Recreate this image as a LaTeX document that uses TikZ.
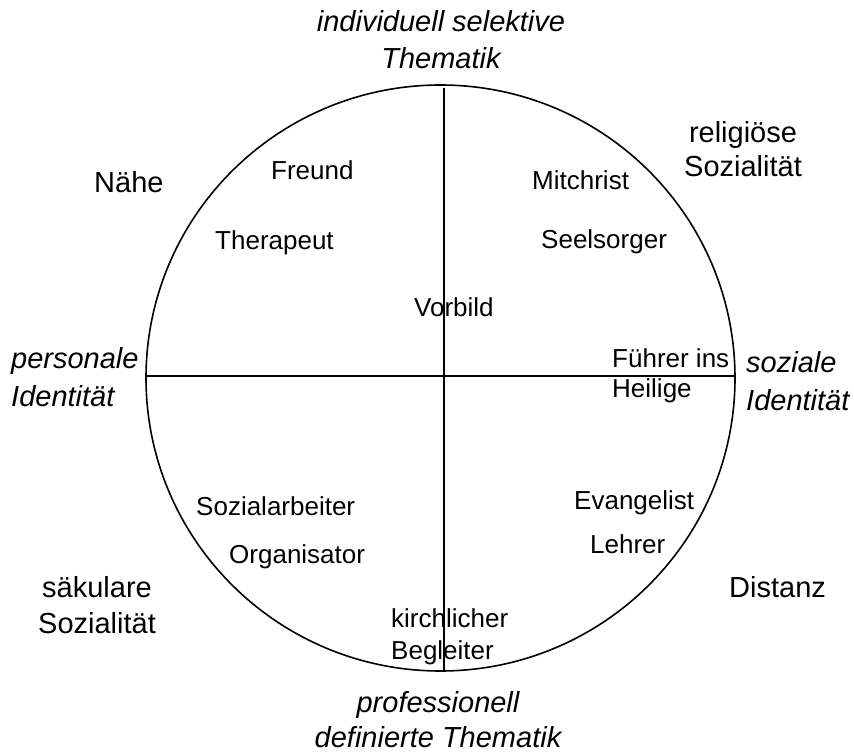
\documentclass[tikz,border=0pt]{standalone}
\usepackage{fontspec}
\setmainfont{Liberation Sans}
\newcommand\linesC[1]{\begin{tabular}[t]{@{}c@{}}#1\end{tabular}}
\newcommand\linesL[1]{\begin{tabular}[t]{@{}l@{}}#1\end{tabular}}
\begin{document}
\begin{tikzpicture}[x=1pt,y=-1pt,
  lbl/.style={inner sep=0pt, font=\fontsize{26}{#1}\selectfont},
  lbl/.default=30,
  big/.style={inner sep=0pt, font=\fontsize{29}{#1}\selectfont},
  big/.default=34,
  ital/.style={inner sep=0pt, font=\fontsize{29}{#1}\selectfont\itshape},
  ital/.default=37,
  axis/.style={line width=1.6pt, black}]
\fill[white] (0,0) rectangle (854,754);
\useasboundingbox (0,0) rectangle (854,754);
% circle and axes
\coordinate (c) at (440.5,378);
\draw[axis] (c) ellipse [x radius=294.5, y radius=293];
\coordinate (vt) at (444,88);
\coordinate (vb) at (444,671);
\coordinate (hl) at (146,376);
\coordinate (hr) at (735,376);
\draw[axis] (vt) -- (vb);
\draw[axis] (hl) -- (hr);
% axis labels
\node[ital, anchor=base] (top) at (441,32) {\linesC{individuell selektive\\Thematik}};
\node[ital=35, anchor=base] (bottom) at (438,712) {\linesC{professionell\\definierte Thematik}};
\node[ital=38, anchor=base west] (left) at (11,368) {\linesL{personale\\Identität}};
\node[ital=38, anchor=base west] (right) at (746,372) {\linesL{soziale\\Identität}};
% corner labels
\node[big, anchor=base west] (naehe) at (94,193) {Nähe};
\node[big, anchor=base] (relig) at (743,143) {\linesC{religiöse\\Sozialität}};
\node[big=36, anchor=base] (saek) at (97,597) {\linesC{säkulare\\Sozialität}};
\node[big, anchor=base west] (distanz) at (729,597) {Distanz};
% roles
\node[lbl, anchor=base west] (freund) at (271,180) {Freund};
\node[lbl, anchor=base west] (therapeut) at (215,249) {Therapeut};
\node[lbl, anchor=base west] (mitchrist) at (532,190) {Mitchrist};
\node[lbl, anchor=base west] (seelsorger) at (541,248) {Seelsorger};
\node[lbl, anchor=base west] (vorbild) at (414,316) {Vorbild};
\node[lbl, anchor=base west] (fuehrer) at (612,367) {\linesL{Führer ins\\Heilige}};
\node[lbl, anchor=base west] (sozarb) at (196,515) {Sozialarbeiter};
\node[lbl, anchor=base west] (organ) at (229,563) {Organisator};
\node[lbl, anchor=base west] (evang) at (574,509) {Evangelist};
\node[lbl, anchor=base west] (lehrer) at (590,553) {Lehrer};
\node[lbl=32, anchor=base west] (kirchl) at (391,627) {\linesL{kirchlicher\\Begleiter}};
\end{tikzpicture}
\end{document}
